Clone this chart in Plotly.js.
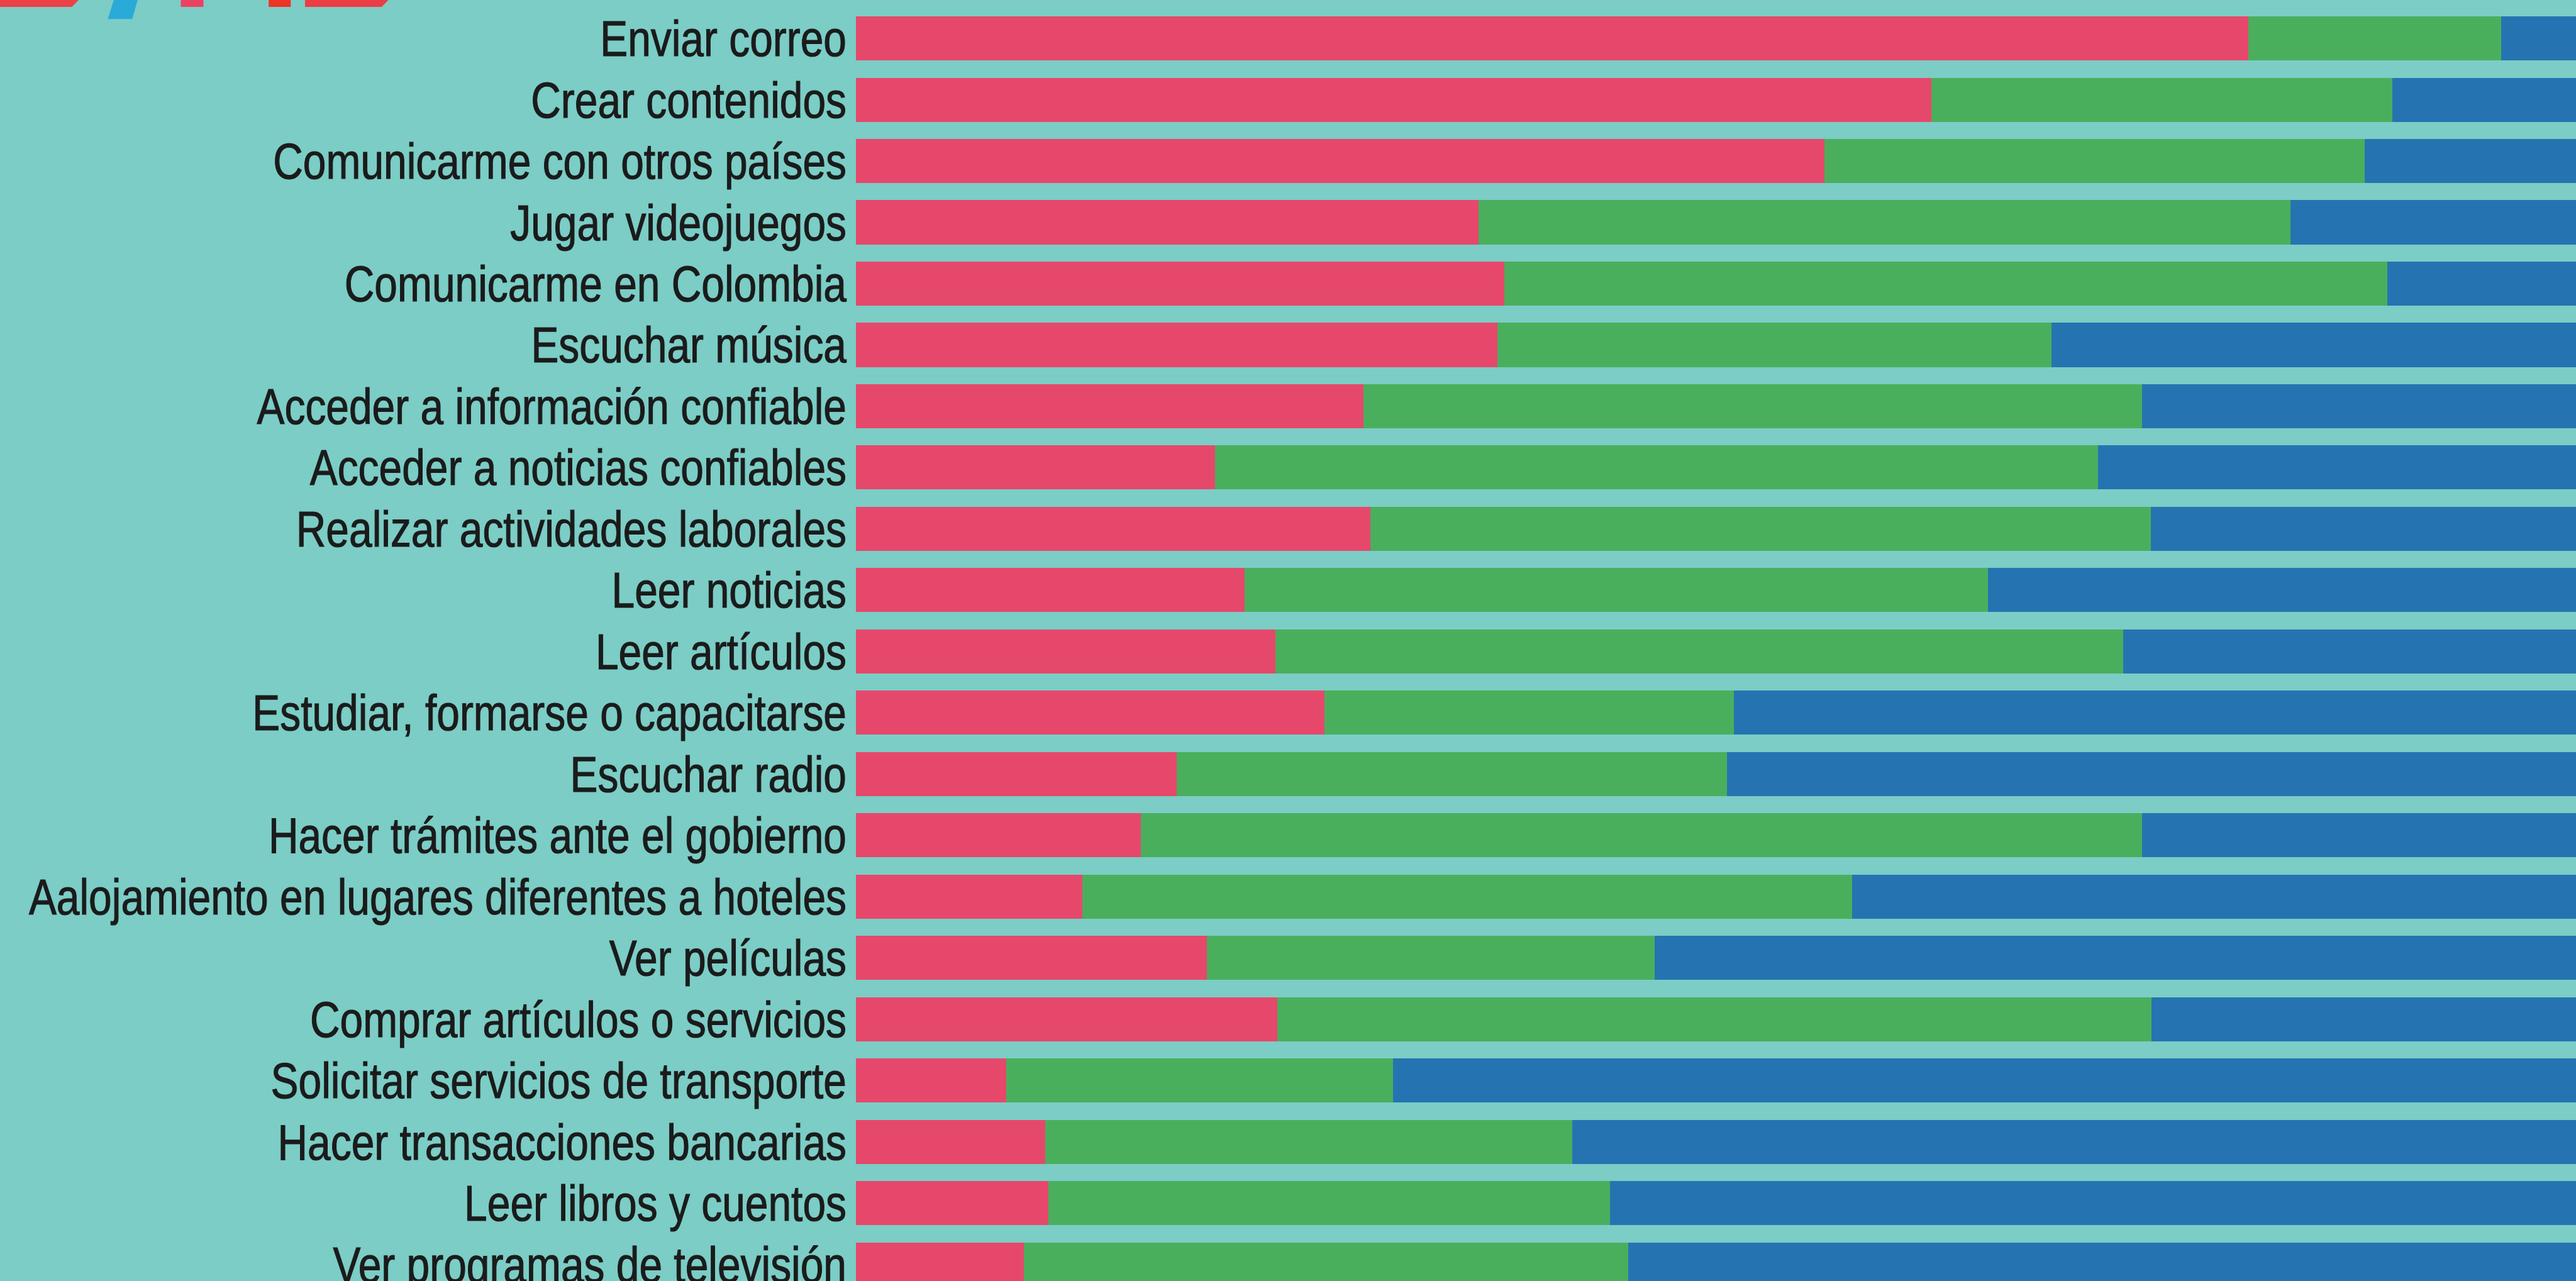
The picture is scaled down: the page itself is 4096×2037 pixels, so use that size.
<!DOCTYPE html>
<html>
<head>
<meta charset="utf-8">
<script src="https://cdn.plot.ly/plotly-3.0.1.min.js"></script>
<style>
  html, body { margin: 0; padding: 0; background: #7BCDC6; overflow: hidden; }
  #chart { width: 4096px; height: 2037px; }
</style>
</head>
<body>
<div id="chart"></div>
<script>
// Categories, top to bottom
const categories = [
  "Enviar correo",
  "Crear contenidos",
  "Comunicarme con otros países",
  "Jugar videojuegos",
  "Comunicarme en Colombia",
  "Escuchar música",
  "Acceder a información confiable",
  "Acceder a noticias confiables",
  "Realizar actividades laborales",
  "Leer noticias",
  "Leer artículos",
  "Estudiar, formarse o capacitarse",
  "Escuchar radio",
  "Hacer trámites ante el gobierno",
  "Aalojamiento en lugares diferentes a hoteles",
  "Ver películas",
  "Comprar artículos o servicios",
  "Solicitar servicios de transporte",
  "Hacer transacciones bancarias",
  "Leer libros y cuentos",
  "Ver programas de televisión"
];

// Segment widths (share of the visible bar width)
const redValues = [80.94, 62.53, 56.29, 36.18, 37.70, 37.31, 29.49, 20.87, 29.91, 22.59, 24.38,
                   27.23, 18.65, 16.57, 13.15, 20.41, 24.48, 8.75, 11.00, 11.20, 9.77];
const greenValues = [14.72, 26.80, 31.42, 47.23, 51.32, 32.18, 45.29, 51.36, 45.36, 43.22, 49.30,
                     23.80, 32.00, 58.21, 44.77, 26.04, 50.83, 22.49, 30.64, 32.63, 35.12];
const blueValues = [4.34, 10.67, 12.29, 16.59, 10.98, 30.51, 25.22, 27.77, 24.73, 34.19, 26.32,
                    48.97, 49.35, 25.22, 42.08, 53.55, 24.69, 68.76, 58.36, 56.17, 55.11];

const BG = "#7BCDC6";
const RED = "#E6486B";
const GREEN = "#4AAF5D";
const BLUE = "#2574B1";

const W = 4096, H = 2037, S = 4096 / 4324;
const L = Math.round(1436.35 * S);

function mk(vals, color, name) {
  return {
    type: "bar", orientation: "h", name: name,
    y: categories, x: vals,
    marker: { color: color, line: { width: 0 } },
    hoverinfo: "skip"
  };
}

const data = [
  mk(redValues, RED, "a"),
  mk(greenValues, GREEN, "b"),
  mk(blueValues, BLUE, "c")
];

// Decorative cropped logo at the top-left (reference px -> paper)
function px(x) { return (x * S - L) / (W - L); }
function py(y) { return 1 - (y * S) / H; }
function poly(pts, color) {
  let d = "M " + pts.map(p => px(p[0]) + "," + py(p[1])).join(" L ") + " Z";
  return { type: "path", xref: "paper", yref: "paper", path: d,
           fillcolor: color, line: { width: 0 }, layer: "above" };
}
const shapes = [
  poly([[0, 0], [132, 0], [120.5, 11.7], [0, 11.7]], "#EC4148"),
  poly([[191, 0], [231, 0], [222, 32], [181, 32]], "#2AAAD8"),
  poly([[303.6, 0], [341.5, 0], [341.5, 11.7], [303.6, 11.7]], "#EA4260"),
  poly([[451, 0], [488, 0], [488, 11.7], [451, 11.7]], "#EC3427"),
  poly([[512, 0], [652, 0], [640.6, 11.7], [512, 11.7]], "#EB3D45")
];

// category index range so rows land where the reference has them
const pitch = 102.9 * S;
const firstCenter = 64.5 * S;
const yTop = 0 - firstCenter / pitch;
const yBottom = (H - firstCenter) / pitch;

const layout = {
  width: W, height: H,
  margin: { l: L, r: 0, t: 0, b: 0, pad: 0 },
  paper_bgcolor: BG, plot_bgcolor: BG,
  barmode: "stack",
  bargap: 0.281,
  showlegend: false,
  xaxis: {
    range: [0, 100], showgrid: false, zeroline: false, showline: false,
    showticklabels: false, ticks: "", fixedrange: true
  },
  yaxis: {
    type: "category",
    categoryorder: "array", categoryarray: categories,
    range: [yBottom, yTop],
    showgrid: false, zeroline: false, showline: false,
    ticks: "", ticklabelstandoff: 14,
    tickfont: { family: "'Liberation Sans', Arial, sans-serif",
                size: 80, color: "#1B1B1B" },
    fixedrange: true
  },
  shapes: shapes
};

// condensed look: compress the label glyphs horizontally (reference face is a narrow sans)
function condense() {
  const texts = document.querySelectorAll("#chart .ytick text");
  let k1 = null, k2 = null;
  texts.forEach(t => {
    if (t.textContent === "Enviar correo") k1 = 387 / t.getComputedTextLength();
    if (t.textContent.indexOf("Aalojamiento") === 0) k2 = 1316 / t.getComputedTextLength();
  });
  const k = (k1 && k2) ? (k1 + k2) / 2 : 0.84;
  texts.forEach(t => {
    const w = t.getComputedTextLength();
    t.setAttribute("textLength", (w * k).toFixed(1));
    t.setAttribute("lengthAdjust", "spacingAndGlyphs");
    t.style.stroke = "#1B1B1B";
    t.style.strokeWidth = "1.2px";
  });
}

Plotly.newPlot("chart", data, layout, { displayModeBar: false, staticPlot: true }).then(condense);
</script>
</body>
</html>
